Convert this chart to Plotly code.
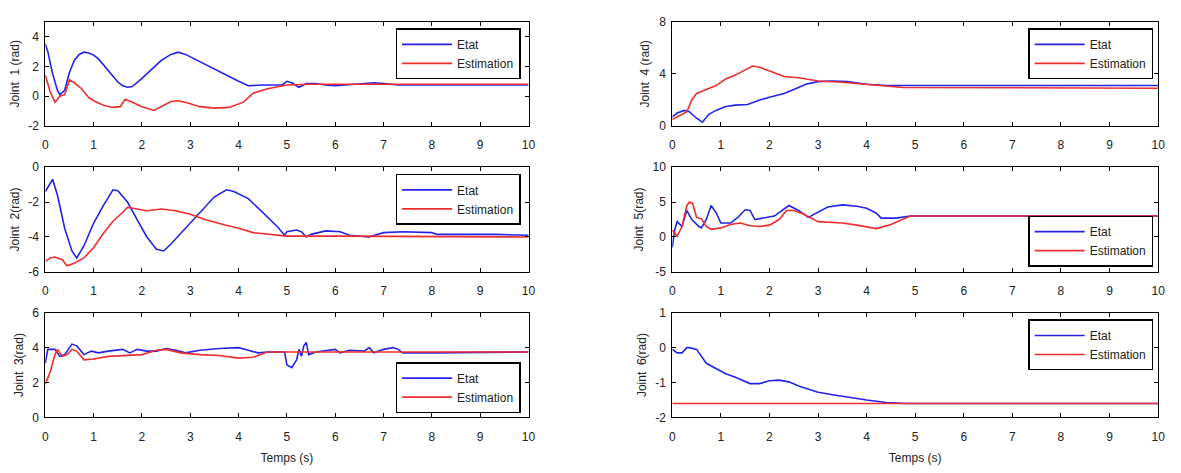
import plotly.graph_objects as go

# ---------------- data ----------------
t1_etat = [0, 0.05, 0.15, 0.25, 0.3, 0.4, 0.5, 0.6, 0.7, 0.8, 0.9, 1.0, 1.1, 1.2, 1.3, 1.4, 1.5, 1.6, 1.7, 1.8, 1.9, 2.0,
           2.2, 2.4, 2.6, 2.75, 2.9, 3.2, 3.5, 3.8, 4.0, 4.2, 4.5, 4.9, 5.0, 5.1, 5.25, 5.4, 5.6, 5.8, 6.0, 6.4, 6.8,
           7.0, 7.3, 8, 9, 10]
y1_etat = [3.5, 3.0, 1.5, 0.4, 0.1, 0.4, 1.6, 2.4, 2.8, 2.95, 2.9, 2.75, 2.5, 2.1, 1.7, 1.3, 0.95, 0.7, 0.6, 0.65, 0.9,
           1.2, 1.8, 2.4, 2.8, 2.95, 2.8, 2.3, 1.8, 1.3, 1.0, 0.7, 0.75, 0.75, 1.0, 0.9, 0.6, 0.85, 0.85, 0.75, 0.7,
           0.8, 0.9, 0.85, 0.75, 0.75, 0.75, 0.75]
t1_est = [0, 0.1, 0.2, 0.3, 0.4, 0.5, 0.6, 0.75, 0.9, 1.0, 1.2, 1.4, 1.55, 1.65, 1.8, 2.0, 2.25, 2.4, 2.6, 2.75, 2.95,
          3.2, 3.5, 3.8, 4.0, 4.1, 4.3, 4.6, 5.0, 5.5, 10]
y1_est = [1.4, 0.3, -0.4, 0.0, 0.1, 1.1, 0.9, 0.5, -0.1, -0.3, -0.6, -0.75, -0.7, -0.2, -0.4, -0.7, -0.95, -0.7, -0.35,
          -0.3, -0.45, -0.7, -0.8, -0.75, -0.55, -0.4, 0.2, 0.5, 0.75, 0.8, 0.8]

t2_etat = [0, 0.15, 0.25, 0.4, 0.55, 0.65, 0.8, 1.0, 1.2, 1.4, 1.5, 1.7, 1.9, 2.1, 2.3, 2.45, 2.6, 2.9, 3.2, 3.5, 3.75,
           3.9, 4.2, 4.5, 4.8, 4.95, 5.0, 5.2, 5.3, 5.4, 5.5, 5.8, 6.1, 6.3, 6.7, 7.0, 7.4, 8.0, 8.1, 9.3, 10]
y2_etat = [-1.4, -0.7, -1.6, -3.5, -4.8, -5.2, -4.5, -3.2, -2.2, -1.3, -1.35, -2.0, -3.0, -4.0, -4.7, -4.8, -4.4, -3.5,
           -2.6, -1.7, -1.3, -1.4, -1.8, -2.6, -3.4, -3.9, -3.7, -3.6, -3.7, -4.0, -3.85, -3.65, -3.7, -3.9, -4.0,
           -3.75, -3.7, -3.75, -3.85, -3.85, -3.9]
t2_est = [0, 0.1, 0.2, 0.35, 0.45, 0.6, 0.8, 1.0, 1.2, 1.4, 1.6, 1.7, 1.9, 2.1, 2.4, 2.7, 3.0, 3.3, 3.7, 4.0, 4.3, 4.7,
          5.0, 6.0, 10]
y2_est = [-5.4, -5.2, -5.15, -5.3, -5.65, -5.5, -5.2, -4.6, -3.8, -3.1, -2.6, -2.3, -2.4, -2.5, -2.4, -2.5, -2.7, -3.0,
          -3.3, -3.5, -3.75, -3.85, -3.95, -3.95, -4.0]

t3_etat = [0, 0.05, 0.2, 0.3, 0.4, 0.55, 0.65, 0.8, 0.95, 1.1, 1.3, 1.6, 1.75, 1.9, 2.1, 2.3, 2.5, 2.7, 2.9, 3.2, 3.6,
           4.0, 4.2, 4.4, 4.6, 4.95, 5.0, 5.1, 5.2, 5.25, 5.3, 5.35, 5.4, 5.45, 5.6, 6.0, 6.1, 6.3, 6.6, 6.7, 6.8,
           7.0, 7.2, 7.3, 7.4, 8.0, 10]
y3_etat = [3.1, 3.9, 3.9, 3.5, 3.6, 4.2, 4.1, 3.6, 3.8, 3.7, 3.8, 3.9, 3.7, 3.9, 3.8, 3.8, 3.95, 3.85, 3.7, 3.85, 3.95,
           4.0, 3.85, 3.7, 3.75, 3.75, 3.0, 2.85, 3.3, 3.9, 3.5, 4.1, 4.3, 3.6, 3.75, 3.9, 3.7, 3.85, 3.8, 4.0, 3.7,
           3.9, 4.0, 3.9, 3.7, 3.7, 3.75]
t3_est = [0, 0.1, 0.2, 0.25, 0.35, 0.45, 0.55, 0.65, 0.8, 1.0, 1.3, 1.7, 2.0, 2.3, 2.5, 2.8, 3.2, 3.6, 4.0, 4.3, 4.6,
          10]
y3_est = [1.9, 2.6, 3.6, 3.9, 3.5, 3.6, 3.9, 3.8, 3.3, 3.35, 3.5, 3.55, 3.6, 3.85, 3.9, 3.7, 3.6, 3.55, 3.4, 3.45,
          3.75, 3.75]

t4_etat = [0, 0.1, 0.25, 0.35, 0.5, 0.62, 0.75, 0.9, 1.1, 1.3, 1.55, 1.8, 2.0, 2.3, 2.5, 2.75, 3.0, 3.3, 3.6, 4.0,
           4.4, 4.7, 10]
y4_etat = [0.7, 1.0, 1.2, 1.1, 0.6, 0.3, 0.9, 1.2, 1.5, 1.6, 1.65, 2.0, 2.2, 2.5, 2.8, 3.2, 3.4, 3.45, 3.4, 3.2,
           3.1, 3.1, 3.1]
t4_est = [0, 0.15, 0.3, 0.4, 0.5, 0.7, 0.9, 1.1, 1.3, 1.5, 1.65, 1.8, 2.0, 2.3, 2.6, 3.0, 3.5, 4.0, 4.5, 4.75, 10]
y4_est = [0.5, 0.8, 1.1, 2.0, 2.5, 2.8, 3.1, 3.6, 3.9, 4.3, 4.6, 4.5, 4.2, 3.8, 3.7, 3.45, 3.35, 3.2, 3.05, 2.95, 2.9]

t5_etat = [0, 0.05, 0.1, 0.2, 0.3, 0.4, 0.55, 0.6, 0.7, 0.8, 0.9, 1.0, 1.2, 1.35, 1.5, 1.6, 1.7, 1.9, 2.1, 2.4, 2.6,
           2.8, 3.0, 3.2, 3.5, 3.8, 4.0, 4.2, 4.3, 4.6, 4.9, 10]
y5_etat = [-1.5, 1.0, 2.2, 1.5, 3.8, 2.5, 1.5, 1.3, 2.5, 4.5, 3.5, 2.0, 2.0, 2.8, 3.9, 3.8, 2.5, 2.7, 3.0, 4.5, 3.8,
           2.8, 3.6, 4.3, 4.6, 4.4, 4.1, 3.4, 2.7, 2.7, 3.0, 3.0]
t5_est = [0, 0.1, 0.2, 0.3, 0.35, 0.42, 0.5, 0.6, 0.7, 0.8, 1.0, 1.2, 1.4, 1.6, 1.8, 2.0, 2.2, 2.35, 2.5, 2.7, 3.0,
          3.5, 3.8, 4.2, 4.5, 4.8, 4.9, 10]
y5_est = [1.0, 0.1, 1.5, 4.5, 5.0, 4.8, 2.8, 2.6, 1.5, 1.1, 1.3, 1.8, 2.0, 1.6, 1.5, 1.7, 2.5, 3.8, 3.8, 3.3, 2.2,
          2.0, 1.7, 1.2, 1.8, 2.7, 3.0, 3.0]

t6_etat = [0, 0.1, 0.2, 0.3, 0.35, 0.5, 0.6, 0.7, 0.9, 1.1, 1.3, 1.6, 1.8, 2.0, 2.2, 2.4, 2.6, 2.8, 3.0, 3.3, 3.6,
           4.0, 4.4, 4.8, 10]
y6_etat = [-0.05, -0.15, -0.15, 0.0, 0.0, -0.05, -0.25, -0.45, -0.6, -0.75, -0.85, -1.03, -1.03, -0.95, -0.93, -0.98,
           -1.1, -1.2, -1.28, -1.35, -1.42, -1.5, -1.57, -1.6, -1.6]
t6_est = [0, 10]
y6_est = [-1.6, -1.6]

y_titles = ["Joint  1 (rad)", "Joint  2(rad)", "Joint  3(rad)", "Joint  4 (rad)", "Joint  5(rad)", "Joint  6(rad)"]
y_ranges = [[-2, 5], [-6, 0], [0, 6], [0, 8], [-5, 10], [-2, 1]]
y_tickvals = [[-2, 0, 2, 4], [-6, -4, -2, 0], [0, 2, 4, 6], [0, 4, 8], [-5, 0, 5, 10], [-2, -1, 0, 1]]
x_tickvals = [0, 1, 2, 3, 4, 5, 6, 7, 8, 9, 10]
x_title = "Temps (s)"
names = ["Etat", "Estimation"]

series = [
    (t1_etat, y1_etat, t1_est, y1_est),
    (t2_etat, y2_etat, t2_est, y2_est),
    (t3_etat, y3_etat, t3_est, y3_est),
    (t4_etat, y4_etat, t4_est, y4_est),
    (t5_etat, y5_etat, t5_est, y5_est),
    (t6_etat, y6_etat, t6_est, y6_est),
]

# ---------------- layout ----------------
W, H = 1181, 473
BLUE = "rgb(35,35,235)"
RED = "rgb(240,45,45)"
FONT = "Liberation Sans, Arial, sans-serif"

xdoms = [[42.7 / W, 530 / W], [675 / W, 1165 / W]]
rows_px = [(15, 122.7), (165, 273), (315, 423)]
ydoms = [[1 - b / H, 1 - t / H] for t, b in rows_px]

# legend placement (right px, top px)
leg_pos = [(522, 22), (522, 172), (522, 366), (1160, 22), (1160, 215), (1160, 322)]

fig = go.Figure()
layout = dict(
    width=W, height=H,
    margin=dict(l=0, r=0, t=0, b=0),
    paper_bgcolor="white", plot_bgcolor="white",
    font=dict(family=FONT, size=12, color="#222"),
    showlegend=True,
)

for i, (te, ye, ts, ys) in enumerate(series):
    col = i // 3
    row = i % 3
    k = i + 1
    xa = "x" if k == 1 else f"x{k}"
    ya = "y" if k == 1 else f"y{k}"
    lg = "legend" if k == 1 else f"legend{k}"
    fig.add_trace(go.Scatter(x=te, y=ye, mode="lines", name=names[0], xaxis=xa, yaxis=ya,
                             line=dict(color=BLUE, width=1.6), legend=lg))
    fig.add_trace(go.Scatter(x=ts, y=ys, mode="lines", name=names[1], xaxis=xa, yaxis=ya,
                             line=dict(color=RED, width=1.6), legend=lg))
    axis_common = dict(showline=True, linecolor="black", linewidth=1, mirror="ticks", ticks="inside",
                       ticklen=4, tickcolor="black", showgrid=False, zeroline=False,
                       tickfont=dict(size=12, color="#222"))
    layout["xaxis" if k == 1 else f"xaxis{k}"] = dict(
        domain=xdoms[col], range=[0, 10], tickmode="array", tickvals=x_tickvals,
        ticktext=[str(v) for v in x_tickvals], anchor=ya, ticklabelstandoff=8,
        title=dict(text=x_title if row == 2 else "", font=dict(size=12), standoff=10),
        **axis_common)
    layout["yaxis" if k == 1 else f"yaxis{k}"] = dict(
        domain=ydoms[row], range=y_ranges[i], tickmode="array", tickvals=y_tickvals[i],
        ticktext=[str(v) for v in y_tickvals[i]], anchor=xa, ticklabelstandoff=3,
        title=dict(text=y_titles[i], font=dict(size=12), standoff=6),
        **axis_common)
    rx, ty = leg_pos[i]
    layout[lg] = dict(x=rx / W, y=1 - ty / H, xanchor="right", yanchor="top", xref="paper", yref="paper",
                      bgcolor="white", bordercolor="black", borderwidth=1.5,
                      font=dict(size=12, color="#222"), itemwidth=50, tracegroupgap=0)

fig.update_layout(**layout)
fig.write_html("out.html")
